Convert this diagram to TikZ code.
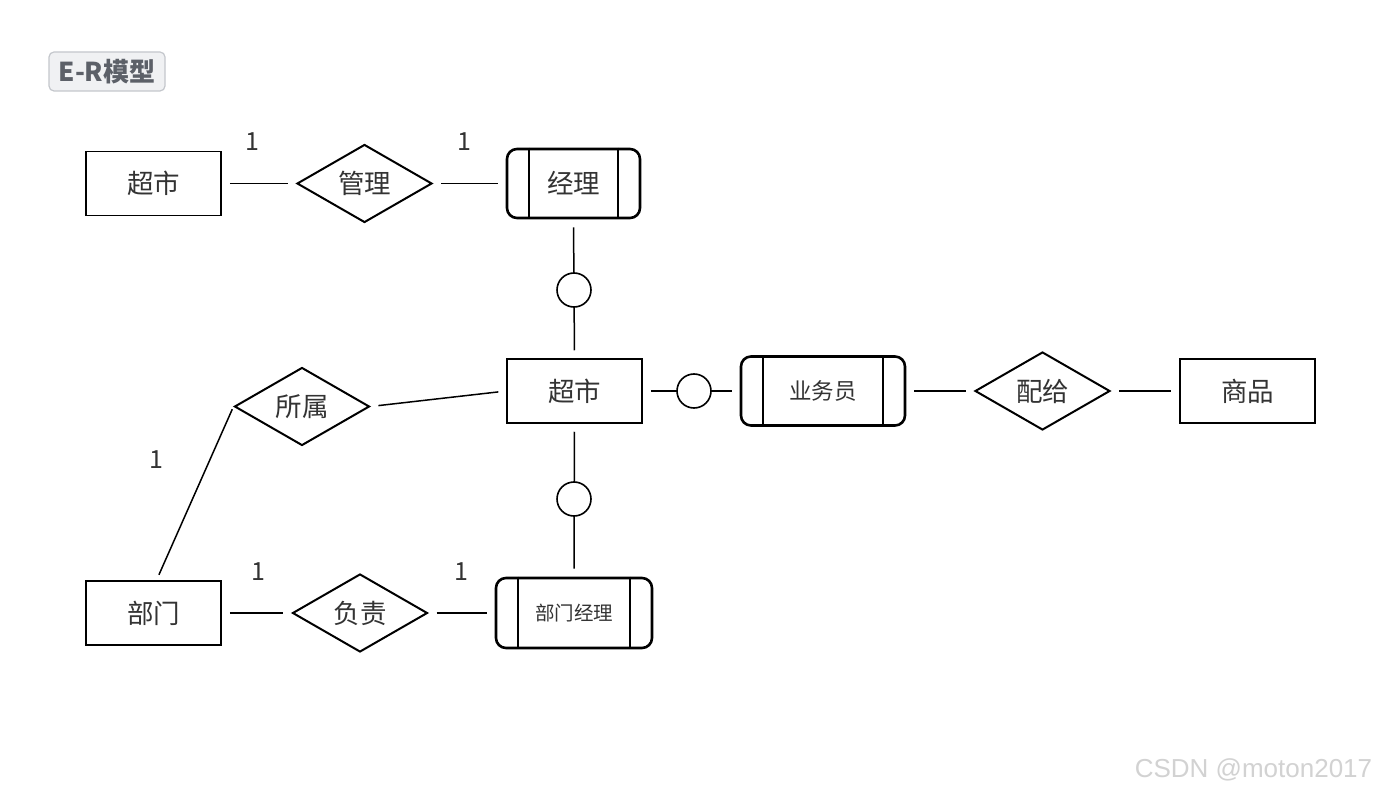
\documentclass[tikz,border=0pt]{standalone}
\usepackage{fontspec}
\setmainfont{Noto Sans CJK SC}
\newfontfamily\wmfont{Liberation Sans}
\usetikzlibrary{shapes.geometric}
\definecolor{txt}{HTML}{333333}
\definecolor{badgefill}{HTML}{F0F1F3}
\definecolor{badgeline}{HTML}{C4C7CC}
\definecolor{badgetxt}{HTML}{5C6068}
\definecolor{wm}{HTML}{D2D2D2}
\tikzset{
  ent/.style={draw=black, line width=1.5pt, minimum width=135pt, minimum height=64pt, inner sep=0pt, text=txt, font=\fontsize{26.5}{30}\selectfont},
  weak/.style={draw=black, line width=2.6pt, rounded corners=10pt, minimum height=69pt, inner sep=0pt, text=txt, font=\fontsize{26.5}{30}\selectfont},
  rel/.style={draw=black, line width=2pt, diamond, aspect=1.75, minimum width=135pt, minimum height=78pt, inner sep=0pt, text=txt, font=\fontsize{26.5}{30}\selectfont},
  conn/.style={draw=black, line width=1.5pt, shorten >=8pt, shorten <=8pt},
  opt/.style={circle, draw=black, line width=1.6pt, fill=white, minimum size=34pt, inner sep=0pt},
  card/.style={text=txt, font=\fontsize{25}{30}\selectfont, inner sep=0pt},
}
\newcommand{\weakbars}[1]{%
  \draw[line width=2.2pt] ([xshift=23.5pt]#1.north west) -- ([xshift=23.5pt]#1.south west);
  \draw[line width=2.2pt] ([xshift=-23.5pt]#1.north east) -- ([xshift=-23.5pt]#1.south east);}
\begin{document}
\begin{tikzpicture}[x=1pt,y=-1pt]
\useasboundingbox[fill=white] (0,0) rectangle (1376,794);
% badge
\node[draw=badgeline, fill=badgefill, line width=1.2pt, rounded corners=5pt, minimum width=116pt, minimum height=39pt, inner sep=0pt, text=badgetxt, font=\fontsize{26}{30}\selectfont\bfseries] (badge) at (107,71.5) {E-R模型};
% top row
\node[ent] (cs1) at (153.5,183.5) {超市};
\node[rel] (gl) at (364.5,183.5) {管理};
\node[weak, minimum width=133pt] (jl) at (573.5,183.5) {经理};
\weakbars{jl}
\draw[conn] (cs1) -- (gl);
\draw[conn] (gl) -- (jl);
\node[card] (c1a) at (252,142) {1};
\node[card] (c1b) at (464,142) {1};
% center
\node[ent] (cs) at (574.5,391) {超市};
\node[weak, minimum width=164pt] (ywy) at (823,391) {\fontsize{22.5}{25}\selectfont 业务员};
\weakbars{ywy}
\node[rel] (pg) at (1042.5,391) {配给};
\node[ent] (sp) at (1247.5,391) {商品};
\draw[conn] (jl.south) -- (cs.north);
\node[opt] (o1) at (574,290) {};
\draw[conn] (cs.east) -- (ywy.west);
\node[opt] (o2) at (694,391) {};
\draw[conn] (ywy.east) -- (pg.west);
\draw[conn] (pg.east) -- (sp.west);
% left
\node[rel] (ss) at (302,406.5) {所属};
\draw[conn] (ss.east) -- (cs.west);
\node[ent] (bm) at (153.5,613) {部门};
\draw[line width=1.5pt, shorten >=3pt, shorten <=6pt] (bm.north) ++(3,0) coordinate (bmt) (bmt) -- (ss.west);
\node[card] (c2) at (156,460) {1};
% bottom
\node[rel] (fz) at (360,613) {负责};
\node[weak, minimum width=156pt, minimum height=70pt] (bmjl) at (574,613) {\fontsize{19.5}{23}\selectfont 部门经理};
\weakbars{bmjl}
\draw[conn] (bm) -- (fz);
\draw[conn] (fz) -- (bmjl);
\draw[conn] (cs.south) -- (bmjl.north);
\node[opt] (o3) at (574,499) {};
\node[card] (c3a) at (258,572) {1};
\node[card] (c3b) at (461,572) {1};
% watermark
\node[text=wm, font=\wmfont\fontsize{26}{30}\selectfont, inner sep=0pt] (wmk) at (1253.5,770) {CSDN @moton2017};
\end{tikzpicture}
\end{document}
